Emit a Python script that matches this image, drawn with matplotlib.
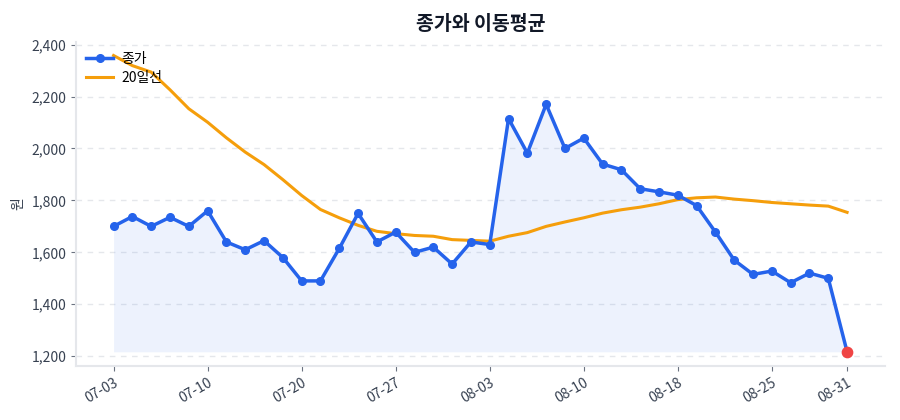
import matplotlib.pyplot as plt

plt.rcParams['font.family'] = ['Noto Sans CJK KR', 'DejaVu Sans']

# 거래일 라벨 (눈금은 일부만 표시)
dates = ['07-03', '07-04', '07-07', '07-08', '07-09', '07-10', '07-11', '07-14', '07-15', '07-16',
         '07-20', '07-21', '07-22', '07-23', '07-24', '07-27', '07-28', '07-29', '07-30', '07-31',
         '08-03', '08-04', '08-05', '08-06', '08-07', '08-10', '08-11', '08-12', '08-13', '08-14',
         '08-18', '08-19', '08-20', '08-21', '08-22', '08-25', '08-26', '08-27', '08-28', '08-31']

close = [1700, 1738, 1700, 1735, 1700, 1760, 1640, 1610, 1645, 1580,
         1490, 1490, 1615, 1750, 1640, 1678, 1600, 1620, 1555, 1640,
         1630, 2115, 1982, 2170, 2000, 2040, 1940, 1918, 1845, 1833,
         1820, 1780, 1678, 1570, 1515, 1528, 1483, 1520, 1500, 1217]

ma20 = [2358, 2319, 2294, 2226, 2153, 2101, 2041, 1986, 1938, 1880,
        1819, 1765, 1733, 1704, 1681, 1672, 1665, 1662, 1649, 1646,
        1643, 1662, 1676, 1700, 1717, 1733, 1751, 1764, 1774, 1787,
        1803, 1810, 1813, 1805, 1799, 1792, 1787, 1782, 1778, 1754]

tick_idx = [0, 5, 10, 15, 20, 25, 30, 35, 39]

blue = '#2563eb'
orange = '#f59e0b'
grey_txt = '#374151'

fig = plt.figure(figsize=(9, 4.2), dpi=100)
ax = fig.add_axes([0.0844, 0.129, 0.8986, 0.771])

x = list(range(len(close)))
ax.fill_between(x, close, min(close), color=blue, alpha=0.08, linewidth=0)
ax.plot(x, close, color=blue, linewidth=2.5, marker='o', markersize=5.5, label='종가', zorder=3)
ax.plot(x, ma20, color=orange, linewidth=2.2, label='20일선', zorder=2)
ax.scatter([x[-1]], [close[-1]], color='#ef4444', s=55, zorder=4)

ax.set_xlim(-2, 41)
ax.set_ylim(1163, 2410)
ax.set_yticks([1200, 1400, 1600, 1800, 2000, 2200, 2400])
ax.yaxis.set_major_formatter(plt.FuncFormatter(lambda v, p: f'{int(v):,}'))
ax.set_xticks(tick_idx)
ax.set_xticklabels([dates[i] for i in tick_idx], rotation=30, ha='right', rotation_mode='anchor')

ax.grid(axis='y', linestyle=(0, (4, 4)), color='#e5e7eb', linewidth=1)
ax.set_axisbelow(True)
for s in ['top', 'right']:
    ax.spines[s].set_visible(False)
for s in ['left', 'bottom']:
    ax.spines[s].set_color('#e5e7eb')
    ax.spines[s].set_linewidth(1.5)
ax.tick_params(colors='#6b7280', labelcolor=grey_txt, labelsize=10)

ax.set_ylabel('원', color=grey_txt, fontsize=10)
ax.set_title('종가와 이동평균', fontsize=14, fontweight='bold', color='#111827', pad=9)

leg = ax.legend(loc='upper left', frameon=False, fontsize=10, borderaxespad=0.3,
                labelspacing=0.4, handletextpad=0.6)

fig.savefig('out.png', dpi=100)
